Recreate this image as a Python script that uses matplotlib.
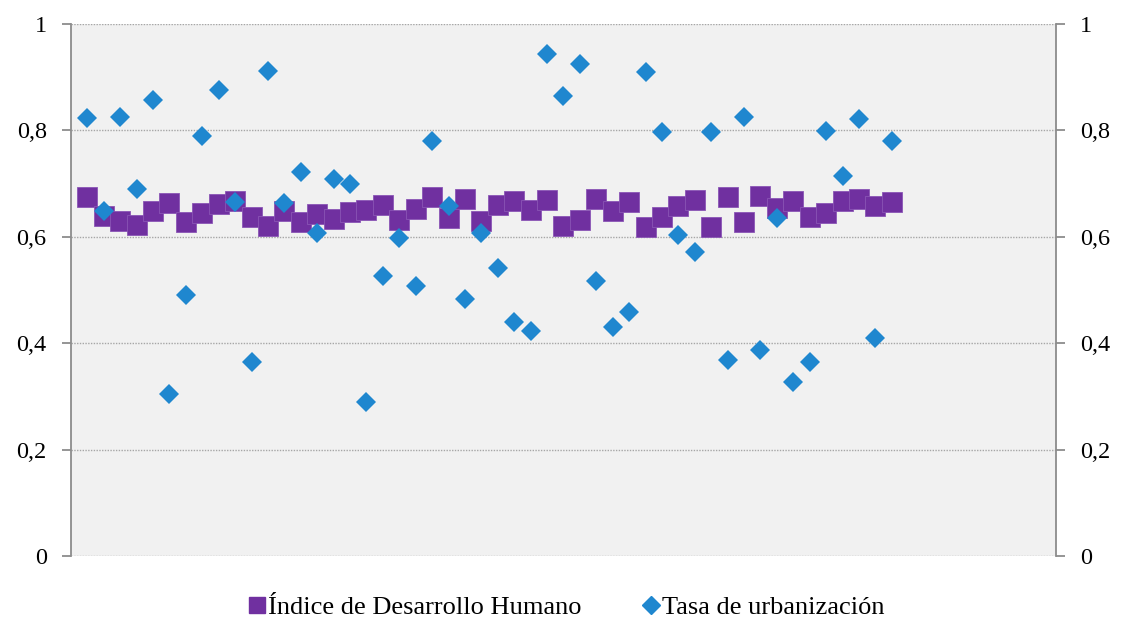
import numpy as np
import matplotlib
matplotlib.use("Agg")
import matplotlib.pyplot as plt
from matplotlib.lines import Line2D

# Índice de Desarrollo Humano, 50 observaciones
idh = [0.675, 0.640, 0.630, 0.622, 0.648, 0.664, 0.628, 0.644, 0.662, 0.667,
       0.638, 0.620, 0.649, 0.628, 0.643, 0.633, 0.647, 0.650, 0.659, 0.632,
       0.652, 0.675, 0.635, 0.672, 0.630, 0.660, 0.667, 0.650, 0.670, 0.621,
       0.631, 0.671, 0.648, 0.665, 0.618, 0.638, 0.657, 0.670, 0.618, 0.675,
       0.628, 0.677, 0.655, 0.668, 0.638, 0.644, 0.667, 0.672, 0.658, 0.666]

# Tasa de urbanización
urb = [0.824, 0.649, 0.825, 0.690, 0.857, 0.304, 0.490, 0.790, 0.876, 0.665,
       0.365, 0.912, 0.663, 0.722, 0.608, 0.709, 0.699, 0.289, 0.526, 0.598,
       0.508, 0.781, 0.657, 0.483, 0.608, 0.541, 0.440, 0.422, 0.944, 0.865,
       0.925, 0.516, 0.431, 0.458, 0.910, 0.797, 0.603, 0.572, 0.797, 0.368,
       0.826, 0.387, 0.636, 0.328, 0.365, 0.798, 0.715, 0.821, 0.409, 0.780]

y_ticks = [0, 0.2, 0.4, 0.6, 0.8, 1]
y_labels = ["0", "0,2", "0,4", "0,6", "0,8", "1"]

purple = "#7030A0"
blue = "#1F87CF"
axis_gray = "#8C8C8C"

plt.rcParams["font.family"] = ["Liberation Serif", "DejaVu Serif"]

fig = plt.figure(figsize=(11.21, 6.19), dpi=100)
ax = fig.add_axes([0.0633, 0.1018, 0.8787, 0.8594])
ax.set_facecolor("#F1F1F1")

x = np.arange(1, len(idh) + 1)
ax.plot(x, idh, linestyle="none", marker="s", markersize=14,
        color=purple, markeredgecolor="#8A55B5", markeredgewidth=0.6, zorder=3)
ax.plot(x, urb, linestyle="none", marker="D", markersize=9.8,
        color=blue, markeredgewidth=0, zorder=4)

ax.set_xlim(0, 60)
ax.set_ylim(0, 1)
ax.set_yticks(y_ticks)
ax.set_yticklabels(y_labels)
ax.set_xticks([])
ax.grid(axis="y", color="#A6A6A6", linestyle=(0, (1, 1)), linewidth=1)
ax.set_axisbelow(True)

for side in ["top", "bottom"]:
    ax.spines[side].set_visible(False)
for side in ["left", "right"]:
    ax.spines[side].set_color(axis_gray)
    ax.spines[side].set_linewidth(1.3)

ax.tick_params(axis="y", which="both", left=True, right=True,
               labelleft=True, labelright=True, direction="out",
               length=6.5, width=1.3, color=axis_gray, pad=11,
               labelsize=17.5, labelcolor="#000000")

handles = [
    Line2D([], [], linestyle="none", marker="s", markersize=12, color=purple),
    Line2D([], [], linestyle="none", marker="D", markersize=8.8, color=blue),
]
fig.legend(handles, ["Índice de Desarrollo Humano", "Tasa de urbanización"],
           loc="center", bbox_to_anchor=(0.505, 0.019), ncol=2, frameon=False,
           fontsize=19, handlelength=0.7, handletextpad=0.05,
           columnspacing=2.3)

fig.savefig("out.png", dpi=100)
